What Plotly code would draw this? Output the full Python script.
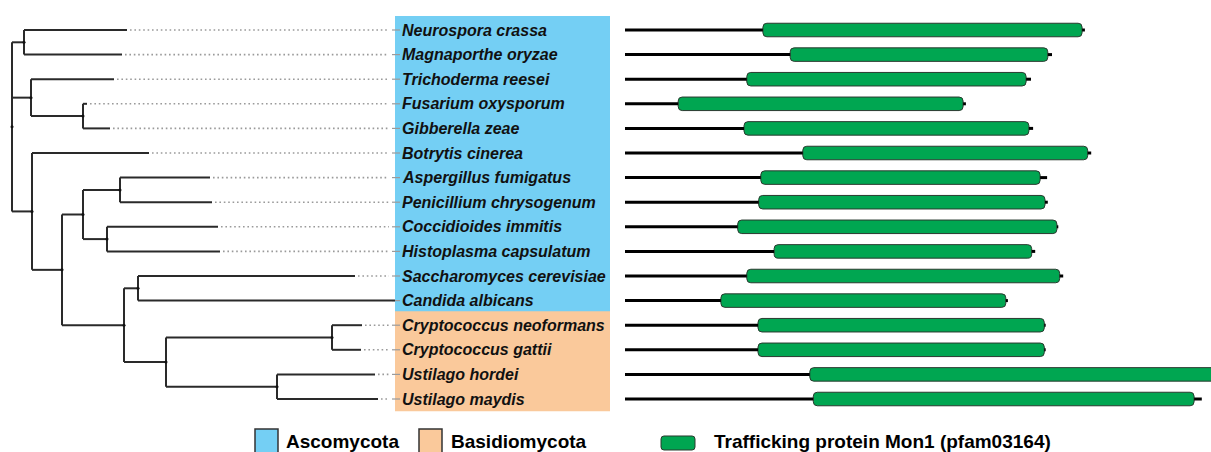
import plotly.graph_objects as go

# ---------------- data ----------------
species = [
    "Neurospora crassa", "Magnaporthe oryzae", "Trichoderma reesei", "Fusarium oxysporum",
    "Gibberella zeae", "Botrytis cinerea", "Aspergillus fumigatus", "Penicillium chrysogenum",
    "Coccidioides immitis", "Histoplasma capsulatum", "Saccharomyces cerevisiae", "Candida albicans",
    "Cryptococcus neoformans", "Cryptococcus gattii", "Ustilago hordei", "Ustilago maydis",
]
phylum = ["Ascomycota"] * 12 + ["Basidiomycota"] * 4

# protein length (aa) and Mon1 domain (pfam03164) start / end (aa)
protein_length = [657, 610, 580, 487, 583, 666, 603, 604, 619, 586, 626, 547, 601, 601, 860, 824]
domain_start = [197, 236, 174, 76, 170, 254, 194, 191, 161, 213, 174, 137, 190, 190, 264, 269]
domain_end = [653, 604, 573, 483, 577, 661, 593, 600, 617, 581, 621, 544, 599, 599, 856, 813]

newick = ("((Neurospora crassa:0.103,Magnaporthe oryzae:0.098):0.012,"
          "(Trichoderma reesei:0.083,(Fusarium oxysporum:0.004,Gibberella zeae:0.027):0.052):0.019,"
          "(Botrytis cinerea:0.117,(((Aspergillus fumigatus:0.090,Penicillium chrysogenum:0.092):0.037,"
          "(Coccidioides immitis:0.111,Histoplasma capsulatum:0.113):0.024):0.021,"
          "((Saccharomyces cerevisiae:0.217,Candida albicans:0.257):0.014,"
          "((Cryptococcus neoformans:0.030,Cryptococcus gattii:0.029):0.166,"
          "(Ustilago hordei:0.098,Ustilago maydis:0.101):0.111):0.042):0.062):0.030):0.020);")

legend_phyla = ["Ascomycota", "Basidiomycota"]
domain_name = "Trafficking protein Mon1 (pfam03164)"

# ---------------- styles ----------------
W, H = 1211, 452
phylum_color = {"Ascomycota": "#74CFF4", "Basidiomycota": "#FAC99B"}
GREEN = "#00A651"
FONT = "Liberation Sans, Arial, sans-serif"


# ---------------- tree parsing ----------------
def parse(s):
    pos = 0

    def node():
        nonlocal pos
        children = []
        if s[pos] == "(":
            pos += 1
            while True:
                children.append(node())
                if s[pos] == ",":
                    pos += 1
                    continue
                if s[pos] == ")":
                    pos += 1
                    break
        start = pos
        while s[pos] not in ":,);":
            pos += 1
        name = s[start:pos]
        bl = 0.0
        if s[pos] == ":":
            pos += 1
            start = pos
            while s[pos] not in ",);":
                pos += 1
            bl = float(s[start:pos])
        return {"name": name, "bl": bl, "children": children}

    return node()


root = parse(newick)
row_of = {n: i for i, n in enumerate(species)}

tx, ty = [], []
nx, ny = [], []
leaf_x = {}


def layout(nd, x0):
    x = x0 + nd["bl"]
    nd["x"] = x
    if not nd["children"]:
        nd["y"] = row_of[nd["name"]]
        leaf_x[nd["name"]] = x
        return
    for c in nd["children"]:
        layout(c, x)
    ys = [c["y"] for c in nd["children"]]
    nd["y"] = (min(ys) + max(ys)) / 2
    tx.extend([x, x, None]); ty.extend([min(ys), max(ys), None])
    for c in nd["children"]:
        tx.extend([x, c["x"], None]); ty.extend([c["y"], c["y"], None])
    nx.append(x); ny.append(nd["y"])


layout(root, 0.0)


# tree axis: pixel p -> (p - 12) / 1000
def tpx(p):
    return (p - 12) / 1000.0


fig = go.Figure()

# dotted guides
dx, dy = [], []
sx, sy = [], []
for n in species:
    r = row_of[n]
    if leaf_x[n] < tpx(388):
        dx.extend([leaf_x[n] + 0.003, tpx(389), None]); dy.extend([r, r, None])
    sx.extend([tpx(392), tpx(400), None]); sy.extend([r, r, None])

fig.add_trace(go.Scatter(x=dx, y=dy, mode="lines", line=dict(color="#9a9a9a", width=1.6, dash="1.6px,2.8px"),
                         hoverinfo="skip", showlegend=False))
fig.add_trace(go.Scatter(x=sx, y=sy, mode="lines", line=dict(color="#9a9a9a", width=1.2),
                         hoverinfo="skip", showlegend=False))
fig.add_trace(go.Scatter(x=tx, y=ty, mode="lines", line=dict(color="#2a2a2a", width=2),
                         hoverinfo="skip", showlegend=False))
fig.add_trace(go.Scatter(x=nx, y=ny, mode="markers", marker=dict(color="#111", size=3),
                         hoverinfo="skip", showlegend=False))

# protein backbone lines
lx, ly = [], []
for i in range(len(species)):
    lx.extend([0, domain_start[i], None, domain_end[i], protein_length[i], None])
    ly.extend([i, i, None, i, i, None])
fig.add_trace(go.Scatter(x=lx, y=ly, mode="lines", line=dict(color="#000", width=3),
                         xaxis="x2", yaxis="y", hoverinfo="skip", showlegend=False))

# domain bars
fig.add_trace(go.Bar(
    y=list(range(len(species))),
    x=[e - s for s, e in zip(domain_start, domain_end)],
    base=domain_start,
    orientation="h",
    width=0.55,
    marker=dict(color=GREEN, line=dict(color="#2a3a2f", width=1), cornerradius=4),
    xaxis="x2", yaxis="y", showlegend=False, hoverinfo="skip",
))

# phylum background boxes
shapes = []
for ph in legend_phyla:
    rows = [i for i, p in enumerate(phylum) if p == ph]
    shapes.append(dict(type="rect", xref="paper", yref="y", layer="below",
                       x0=395 / W, x1=610 / W, y0=min(rows) - 0.57, y1=max(rows) + 0.5,
                       fillcolor=phylum_color[ph], line=dict(width=0)))

annotations = []
for i, n in enumerate(species):
    annotations.append(dict(x=400 / W, y=i, xref="paper", yref="y", xanchor="left", yanchor="middle",
                            text=f"<b><i>{n}</i></b>", showarrow=False,
                            font=dict(family=FONT, size=16, color="#111")))

# legend
leg_box_x = [255, 419]
leg_txt_x = [284, 449]
for ph, bx, txx in zip(legend_phyla, leg_box_x, leg_txt_x):
    shapes.append(dict(type="rect", xref="paper", yref="paper",
                       x0=bx / W, x1=(bx + 23) / W, y0=1 - 458 / H, y1=1 - 429 / H,
                       fillcolor=phylum_color[ph], line=dict(color="#333", width=1.5)))
    annotations.append(dict(x=txx / W, y=1 - 441 / H, xref="paper", yref="paper", xanchor="left",
                            yanchor="middle", text=f"<b>{ph}</b>", showarrow=False,
                            font=dict(family=FONT, size=19, color="#000")))

gx0, gx1, gy0, gy1, rr = 661, 695, 436, 450, 3
path = (f"M {gx0 + rr},{gy0} L {gx1 - rr},{gy0} Q {gx1},{gy0} {gx1},{gy0 + rr} "
        f"L {gx1},{gy1 - rr} Q {gx1},{gy1} {gx1 - rr},{gy1} L {gx0 + rr},{gy1} "
        f"Q {gx0},{gy1} {gx0},{gy1 - rr} L {gx0},{gy0 + rr} Q {gx0},{gy0} {gx0 + rr},{gy0} Z")


def pxpath(p):
    out = []
    for tok in p.split(" "):
        if "," in tok:
            a, b = tok.split(",")
            out.append(f"{float(a) / W:.5f},{1 - float(b) / H:.5f}")
        else:
            out.append(tok)
    return " ".join(out)


shapes.append(dict(type="path", xref="paper", yref="paper", path=pxpath(path),
                   fillcolor=GREEN, line=dict(color="#2a3a2f", width=1)))
annotations.append(dict(x=712 / W, y=1 - 441 / H, xref="paper", yref="paper", xanchor="left",
                        yanchor="middle", text=f"<b>{domain_name}</b>", showarrow=False,
                        font=dict(family=FONT, size=19, color="#000")))

K = 0.7  # px per aa
fig.update_layout(
    width=W, height=H,
    margin=dict(l=0, r=0, t=0, b=0),
    paper_bgcolor="white", plot_bgcolor="rgba(0,0,0,0)",
    xaxis=dict(domain=[0, 1], range=[tpx(0), tpx(W)], visible=False, fixedrange=True),
    xaxis2=dict(domain=[0, 1], range=[-625 / K, (W - 625) / K], overlaying="x", visible=False,
                fixedrange=True),
    yaxis=dict(range=[(H - 30) / 24.6, -30 / 24.6], visible=False, fixedrange=True),
    shapes=shapes, annotations=annotations,
    barmode="overlay",
)

fig.write_html("out.html", config={"displayModeBar": False},
               post_script="document.body.style.margin='0';document.body.style.overflow='hidden';")
